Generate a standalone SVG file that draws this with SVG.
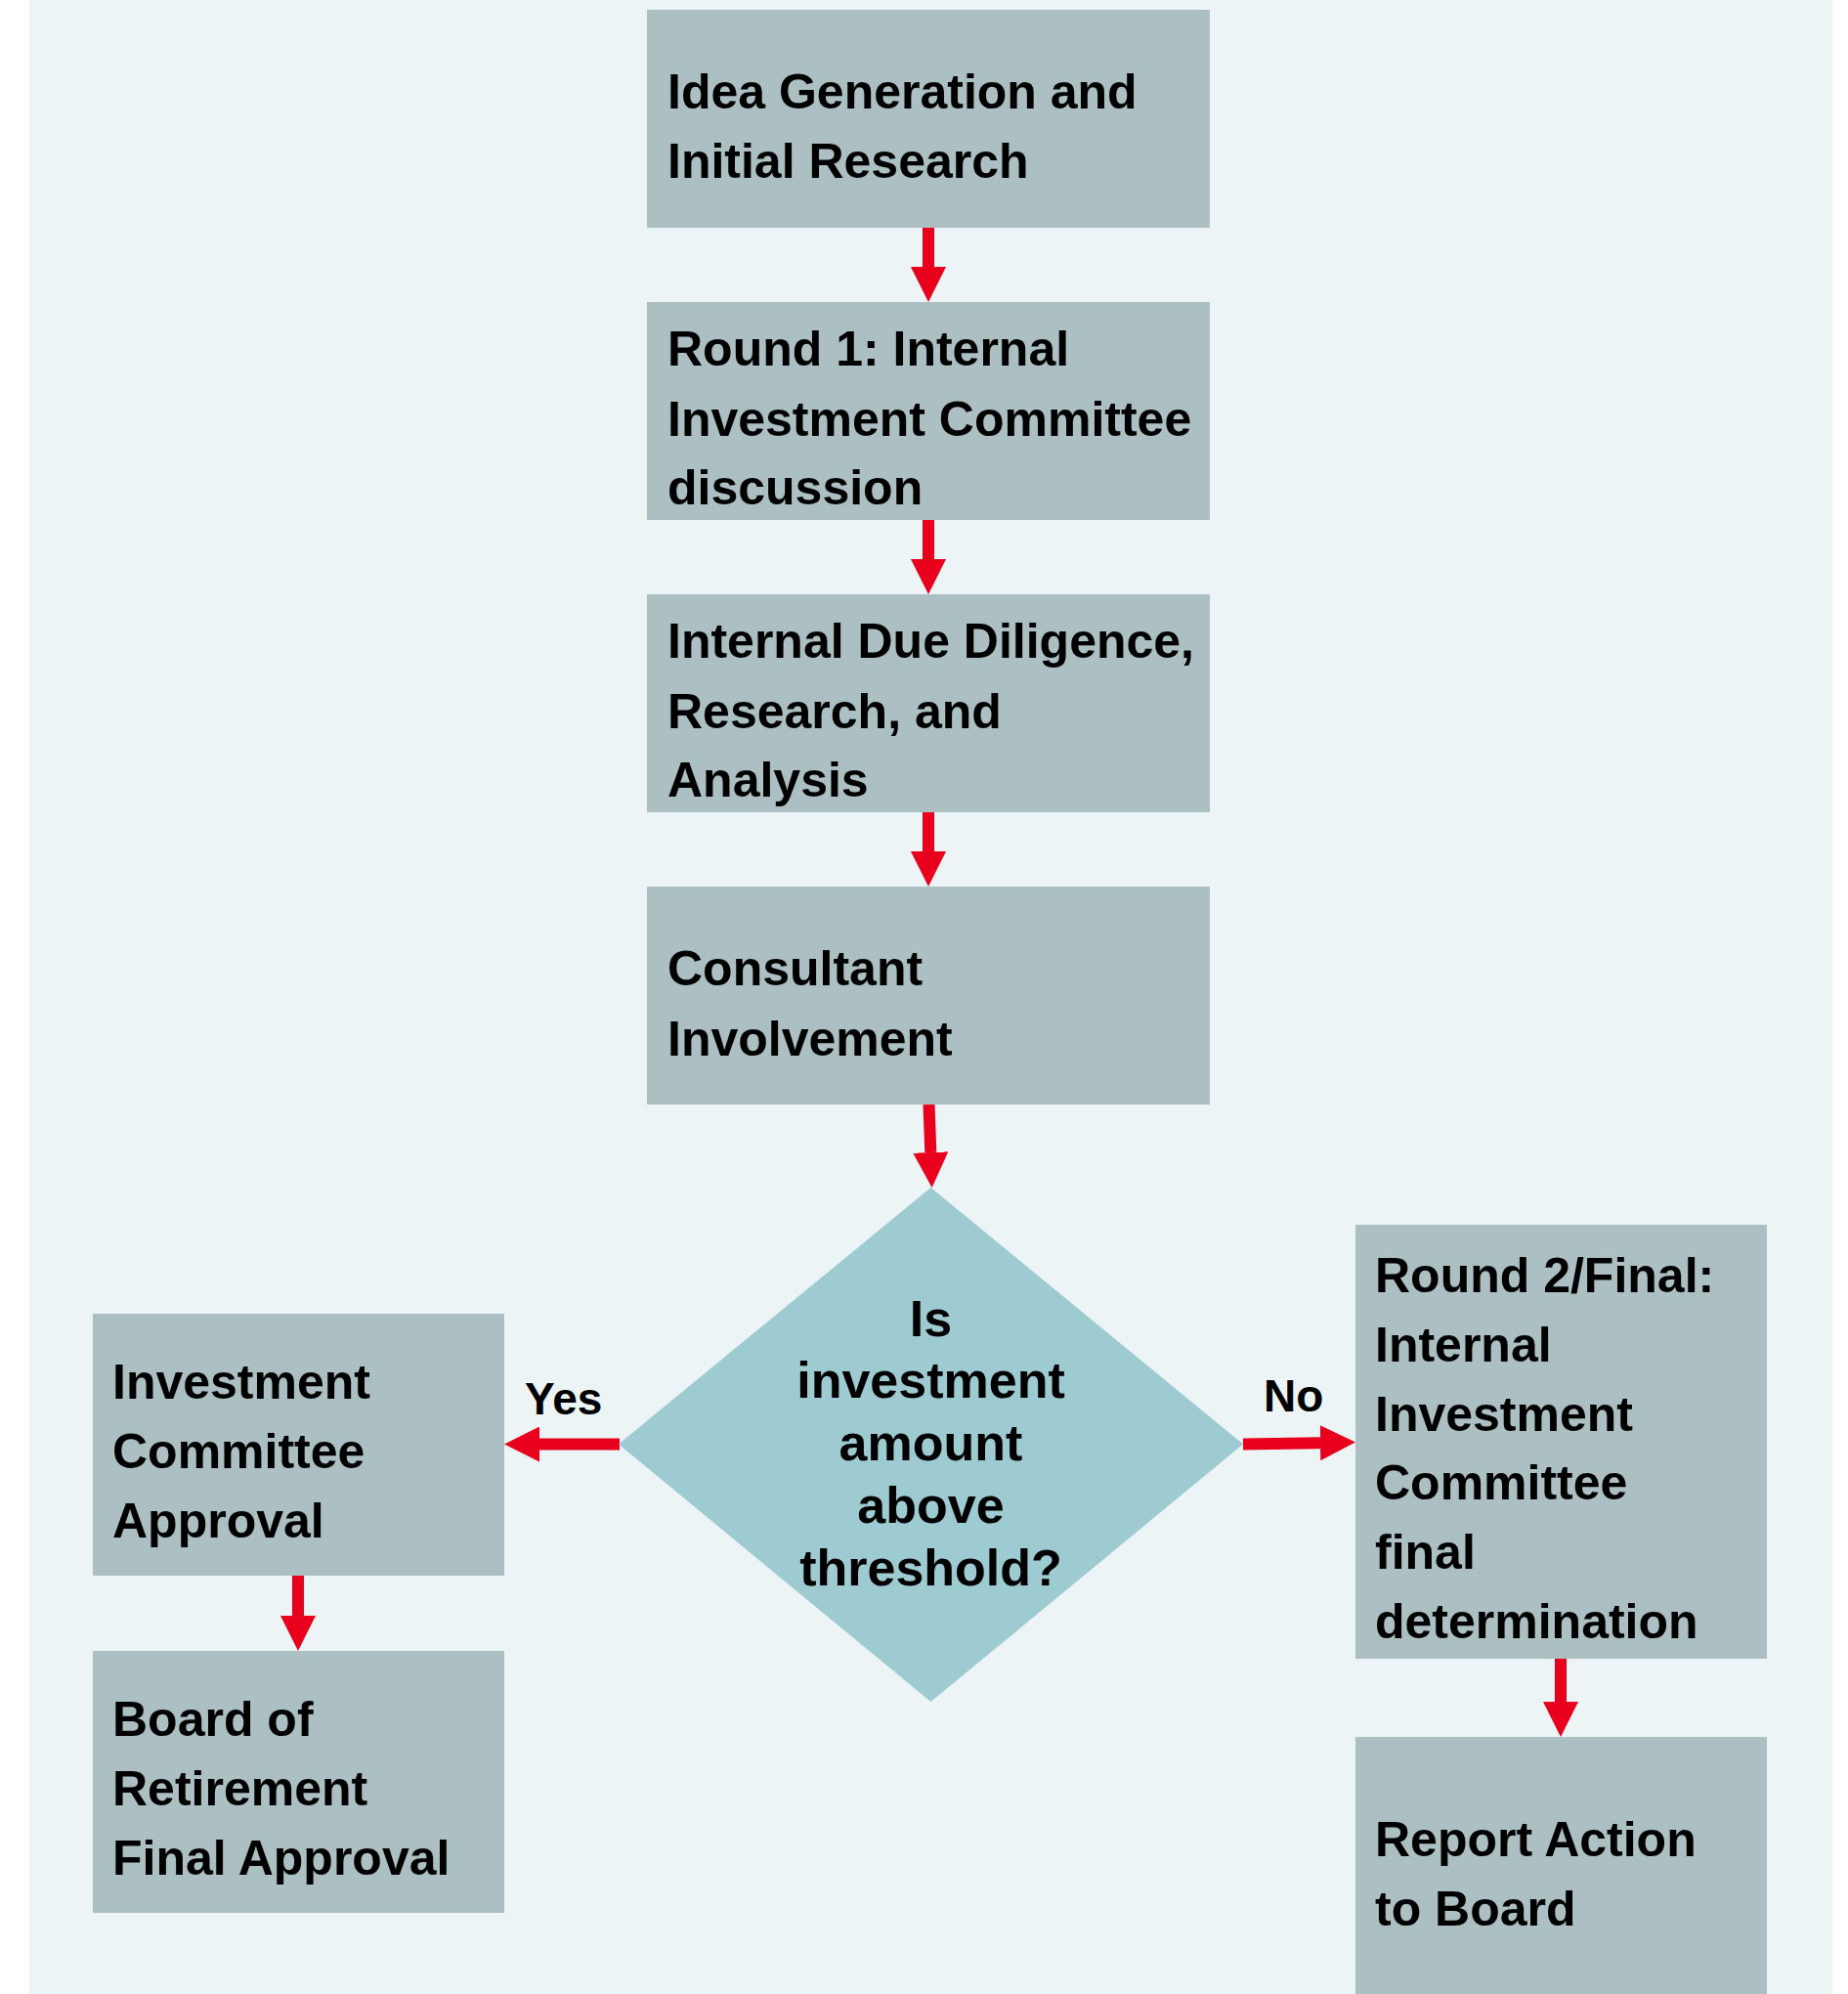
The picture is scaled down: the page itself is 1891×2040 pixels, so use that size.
<svg xmlns="http://www.w3.org/2000/svg" width="1891" height="2040" viewBox="0 0 1891 2040">
  <style>
    .box { fill: #acbfc3; }
    .dia { fill: #9ecad1; }
    .t { font-family: "Liberation Sans", Arial, Helvetica, sans-serif; font-weight: bold; font-size: 50px; fill: #000; }
    .dt { font-family: "Liberation Sans", Arial, Helvetica, sans-serif; font-weight: bold; font-size: 52px; fill: #000; text-anchor: middle; }
    .lbl { font-family: "Liberation Sans", Arial, Helvetica, sans-serif; font-weight: bold; font-size: 46px; fill: #000; }
    .conn { stroke: #e8001c; stroke-width: 12; fill: none; marker-end: url(#ah); }
  </style>
  <defs>
    <marker id="ah" markerUnits="userSpaceOnUse" viewBox="0 0 36 36" refX="0" refY="18" markerWidth="36" markerHeight="36" orient="auto">
      <path d="M0,0 L36,18 L0,36 Z" fill="#e8001c"/>
    </marker>
  </defs>
  <rect x="0" y="0" width="1891" height="2040" fill="#ffffff"/>
  <rect x="30" y="0" width="1845" height="2040" fill="#ecf4f6"/>

  <g id="connectors">
    <line class="conn" x1="950" y1="233" x2="950" y2="273"/>
    <line class="conn" x1="950" y1="532" x2="950" y2="572"/>
    <line class="conn" x1="950" y1="831" x2="950" y2="871"/>
    <line class="conn" x1="950.5" y1="1130" x2="952.3" y2="1179"/>
    <line class="conn" x1="634" y1="1477.5" x2="552" y2="1477.5"/>
    <line class="conn" x1="1272" y1="1477.5" x2="1351" y2="1476.2"/>
    <line class="conn" x1="305" y1="1612" x2="305" y2="1653"/>
    <line class="conn" x1="1597" y1="1696" x2="1597" y2="1741"/>
    <text class="lbl" x="537" y="1447">Yes</text>
    <text class="lbl" x="1293" y="1444">No</text>
  </g>

  <g id="node-idea">
    <rect class="box" x="662" y="10" width="576" height="223"/>
    <text class="t" x="683" y="110.7">Idea Generation and</text>
    <text class="t" x="683" y="182">Initial Research</text>
  </g>
  <g id="node-round1">
    <rect class="box" x="662" y="309" width="576" height="223"/>
    <text class="t" x="683" y="374">Round 1: Internal</text>
    <text class="t" x="683" y="445.5">Investment Committee</text>
    <text class="t" x="683" y="516">discussion</text>
  </g>
  <g id="node-duediligence">
    <rect class="box" x="662" y="608" width="576" height="223"/>
    <text class="t" x="683" y="673">Internal Due Diligence,</text>
    <text class="t" x="683" y="744.5">Research, and</text>
    <text class="t" x="683" y="815">Analysis</text>
  </g>
  <g id="node-consultant">
    <rect class="box" x="662" y="907" width="576" height="223"/>
    <text class="t" x="683" y="1008">Consultant</text>
    <text class="t" x="683" y="1079.5">Involvement</text>
  </g>
  <g id="node-decision">
    <polygon class="dia" points="952.5,1215 1272,1477.5 952.5,1741 633,1477.5"/>
    <text class="dt" x="952.5" y="1366.5">Is</text>
    <text class="dt" x="952.5" y="1430.4">investment</text>
    <text class="dt" x="952.5" y="1494.2">amount</text>
    <text class="dt" x="952.5" y="1558.3">above</text>
    <text class="dt" x="952.5" y="1622">threshold?</text>
  </g>
  <g id="node-icapproval">
    <rect class="box" x="95" y="1344" width="421" height="268"/>
    <text class="t" x="115" y="1430.8">Investment</text>
    <text class="t" x="115" y="1501.8">Committee</text>
    <text class="t" x="115" y="1572.5">Approval</text>
  </g>
  <g id="node-board">
    <rect class="box" x="95" y="1689" width="421" height="268"/>
    <text class="t" x="115" y="1776">Board of</text>
    <text class="t" x="115" y="1846.5">Retirement</text>
    <text class="t" x="115" y="1918">Final Approval</text>
  </g>
  <g id="node-round2">
    <rect class="box" x="1387" y="1253" width="421" height="444"/>
    <text class="t" x="1407" y="1322">Round 2/Final:</text>
    <text class="t" x="1407" y="1392.8">Internal</text>
    <text class="t" x="1407" y="1463.6">Investment</text>
    <text class="t" x="1407" y="1534.4">Committee</text>
    <text class="t" x="1407" y="1605.2">final</text>
    <text class="t" x="1407" y="1676">determination</text>
  </g>
  <g id="node-report">
    <rect class="box" x="1387" y="1777" width="421" height="263"/>
    <text class="t" x="1407" y="1899">Report Action</text>
    <text class="t" x="1407" y="1970">to Board</text>
  </g>
</svg>
